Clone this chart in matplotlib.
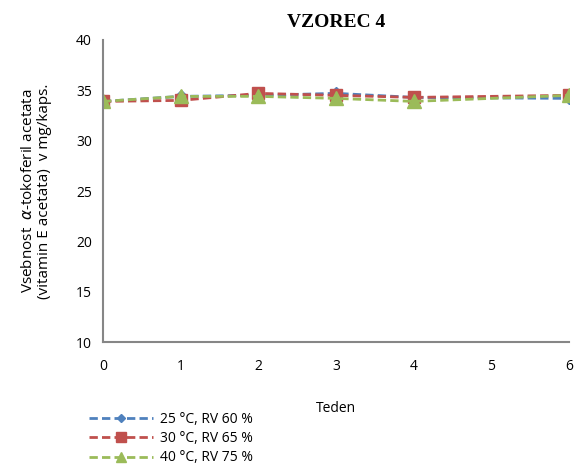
import matplotlib
matplotlib.use('Agg')
import matplotlib.pyplot as plt

# tedni in vsebnost (mg/kaps.)
weeks = [0, 1, 2, 3, 4, 6]
s25 = [33.9, 34.4, 34.5, 34.7, 34.3, 34.2]
s30 = [33.9, 34.0, 34.7, 34.5, 34.3, 34.5]
s40 = [33.9, 34.4, 34.4, 34.2, 33.9, 34.5]
labels = ['25 °C, RV 60 %', '30 °C, RV 65 %', '40 °C, RV 75 %']
xticks = [0, 1, 2, 3, 4, 5, 6]
yticks = [10, 15, 20, 25, 30, 35, 40]

plt.rcParams['font.family'] = ['Open Sans', 'DejaVu Sans']

fig = plt.figure(figsize=(5.74, 4.70), dpi=100)
ax = fig.add_axes([0.1794, 0.2723, 0.8119, 0.6426])

ax.plot(weeks, s25, ls='--', color='#4F81BD', lw=2, marker='D', ms=6, label=labels[0], dashes=(3, 1.5))
ax.plot(weeks, s30, ls='--', color='#C0504D', lw=2, marker='s', ms=9, label=labels[1], dashes=(3, 1.5))
ax.plot(weeks, s40, ls='--', color='#9BBB59', lw=2, marker='^', ms=10, label=labels[2], dashes=(3, 1.5))

ax.set_xlim(0, 6)
ax.set_ylim(10, 40)
ax.set_xticks(xticks)
ax.set_yticks(yticks)
ax.tick_params(length=0, labelsize=10, pad=8)
ax.tick_params(axis='x', pad=12)
for s in ['top', 'right']:
    ax.spines[s].set_visible(False)
for s in ['left', 'bottom']:
    ax.spines[s].set_color('#868686')
    ax.spines[s].set_linewidth(1.5)

ax.set_title('VZOREC 4', family='Liberation Serif', fontweight='bold', fontsize=14, pad=9)
ax.set_xlabel('Teden', fontsize=10, labelpad=20)
ax.set_ylabel('Vsebnost  $\\alpha$-tokoferil acetata\n(vitamin E acetata)  v mg/kaps.', fontsize=11, labelpad=17,
              linespacing=1.1)

fig.legend(loc='upper left', bbox_to_anchor=(0.145, 0.135), frameon=False, fontsize=10,
           handlelength=4.6, labelspacing=0.3, borderaxespad=0, handletextpad=0.5, markerscale=0.75)

fig.savefig('out.png', dpi=100)
